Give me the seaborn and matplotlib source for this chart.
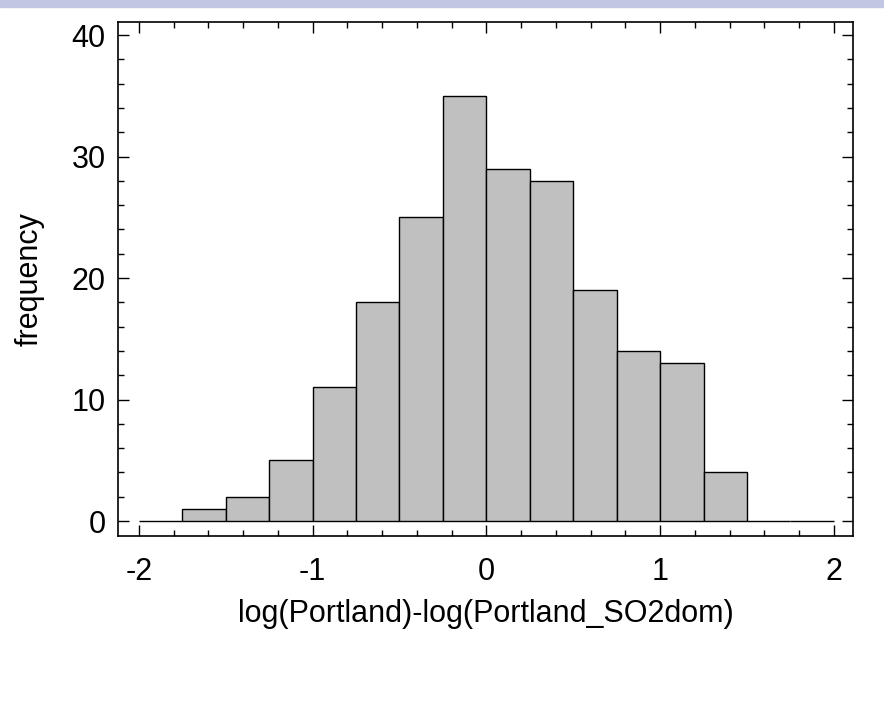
import numpy as np
import pandas as pd
import matplotlib
matplotlib.use("Agg")
import matplotlib.pyplot as plt
import seaborn as sns
from matplotlib.ticker import MultipleLocator

bin_edges = [-2.0, -1.75, -1.5, -1.25, -1.0, -0.75, -0.5, -0.25, 0.0, 0.25, 0.5, 0.75, 1.0, 1.25, 1.5, 1.75, 2.0]
counts = [0, 1, 2, 5, 11, 18, 25, 35, 29, 28, 19, 14, 13, 4, 0, 0]
x_label = "log(Portland)-log(Portland_SO2dom)"
y_label = "frequency"

centers = [(a + b) / 2 for a, b in zip(bin_edges[:-1], bin_edges[1:])]
df = pd.DataFrame({"x": centers, "w": counts})

sns.set_style("white")
plt.rcParams['font.family'] = ['Liberation Sans', 'DejaVu Sans']
plt.rcParams['axes.unicode_minus'] = False
plt.rcParams['text.color'] = 'black'
plt.rcParams['axes.labelcolor'] = 'black'
plt.rcParams['xtick.color'] = 'black'
plt.rcParams['ytick.color'] = 'black'

fig = plt.figure(figsize=(8.84, 7.14), dpi=100)
fig.patches.append(matplotlib.patches.Rectangle((0, 1 - 7/714), 1, 7/714, transform=fig.transFigure,
                                                 color='#C3C6E2', zorder=0))
ax = fig.add_axes([118/884, 1 - 536/714, (853 - 118)/884, (536 - 22)/714])

sns.histplot(data=df, x="x", weights="w", bins=bin_edges, color="#C0C0C0",
             edgecolor="black", linewidth=1.0, alpha=1, ax=ax)

ax.set_xlim(-2.12, 2.11)
ax.set_ylim(-1.23, 41.07)
ax.set_xticks([-2, -1, 0, 1, 2])
ax.set_yticks([0, 10, 20, 30, 40])
ax.xaxis.set_minor_locator(MultipleLocator(0.2))
ax.yaxis.set_minor_locator(MultipleLocator(2))
ax.tick_params(which='both', direction='in', top=True, right=True, bottom=True, left=True,
               color='black', width=1.0)
ax.tick_params(which='major', length=8, labelsize=22)
ax.tick_params(which='minor', length=4)
ax.tick_params(axis='x', which='major', pad=15)
ax.tick_params(axis='y', which='major', pad=9)
for s in ax.spines.values():
    s.set_color('black')
    s.set_linewidth(1.2)
ax.set_xlabel(x_label, fontsize=22, labelpad=9)
ax.set_ylabel(y_label, fontsize=22, labelpad=19)

fig.savefig("out.png", dpi=100)
